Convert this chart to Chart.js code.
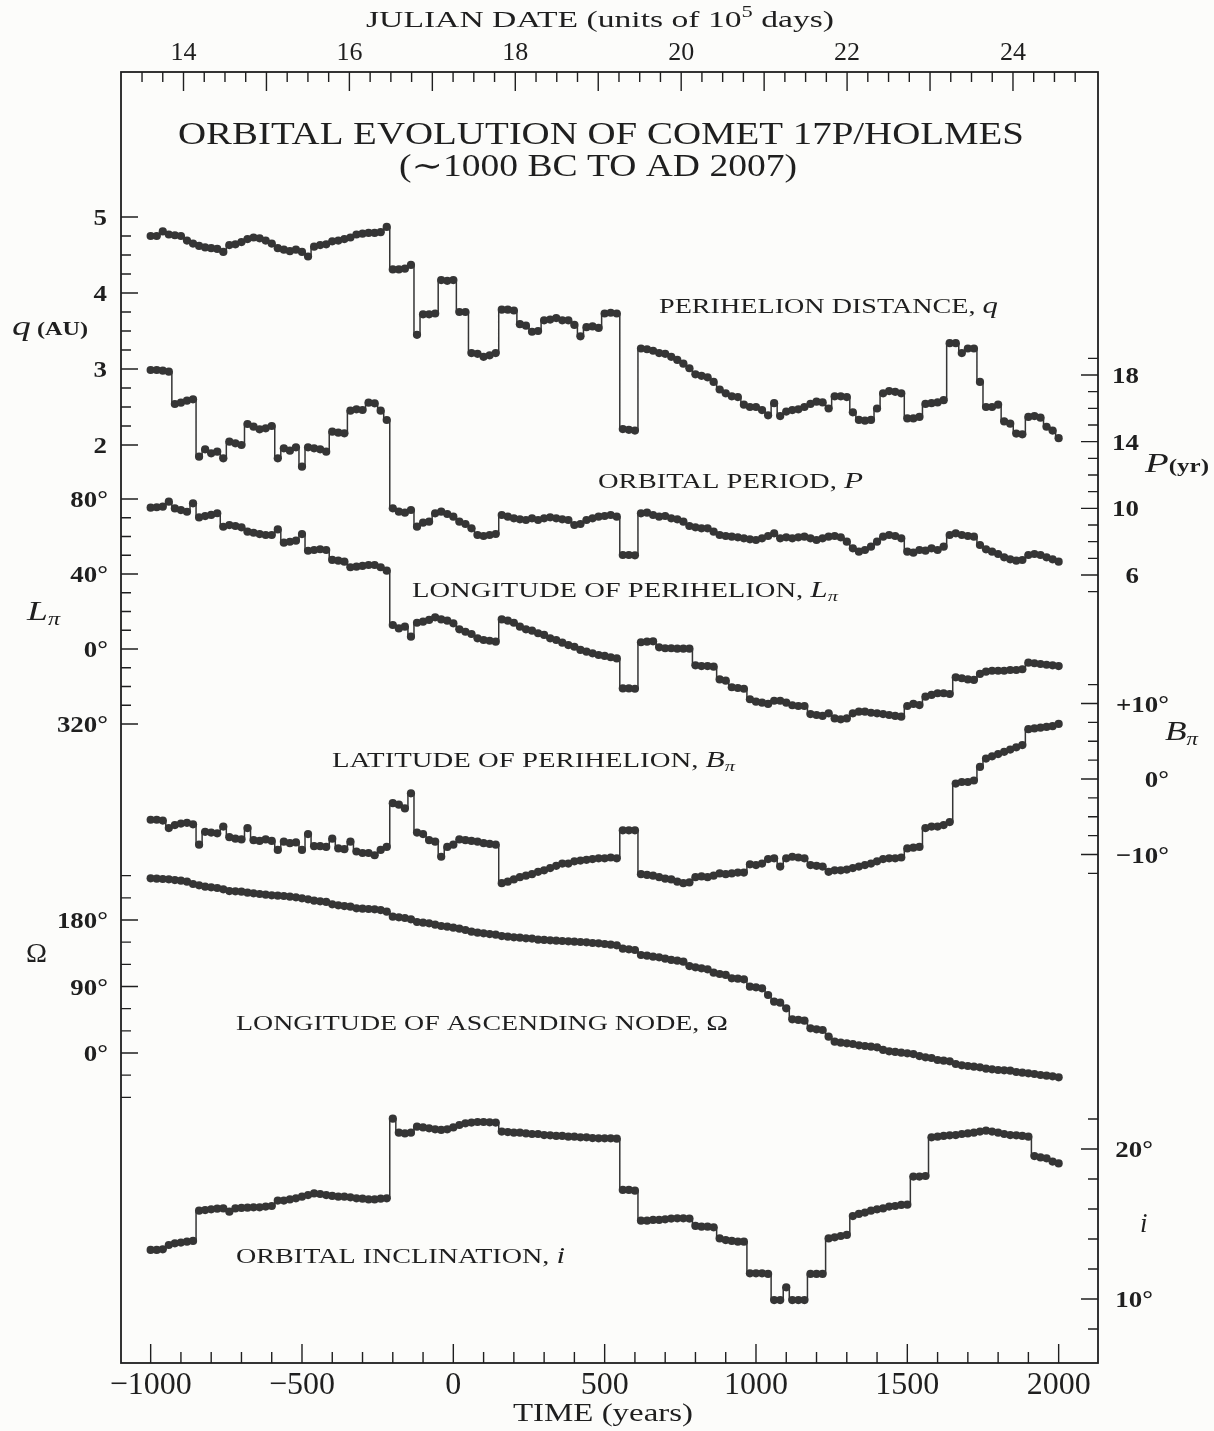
<!DOCTYPE html>
<html>
<head>
<meta charset="utf-8">
<script src="https://cdn.jsdelivr.net/npm/chart.js@4.4.1/dist/chart.umd.min.js"></script>
<style>
  html, body { margin: 0; padding: 0; background: #fcfcfa; }
  #chart { display: block; }
</style>
</head>
<body>
<canvas id="chart" width="1214" height="1431"></canvas>
<script>
// --- data (one value per 20 years) ---
const years = [
  -1000, -980, -960, -940, -920, -900, -880, -860, -840, -820,
  -800, -780, -760, -740, -720, -700, -680, -660, -640, -620,
  -600, -580, -560, -540, -520, -500, -480, -460, -440, -420,
  -400, -380, -360, -340, -320, -300, -280, -260, -240, -220,
  -200, -180, -160, -140, -120, -100, -80, -60, -40, -20,
  0, 20, 40, 60, 80, 100, 120, 140, 160, 180,
  200, 220, 240, 260, 280, 300, 320, 340, 360, 380,
  400, 420, 440, 460, 480, 500, 520, 540, 560, 580,
  600, 620, 640, 660, 680, 700, 720, 740, 760, 780,
  800, 820, 840, 860, 880, 900, 920, 940, 960, 980,
  1000, 1020, 1040, 1060, 1080, 1100, 1120, 1140, 1160, 1180,
  1200, 1220, 1240, 1260, 1280, 1300, 1320, 1340, 1360, 1380,
  1400, 1420, 1440, 1460, 1480, 1500, 1520, 1540, 1560, 1580,
  1600, 1620, 1640, 1660, 1680, 1700, 1720, 1740, 1760, 1780,
  1800, 1820, 1840, 1860, 1880, 1900, 1920, 1940, 1960, 1980,
  2000
];

// perihelion distance q (AU)
const perihelionQ = [
  4.75, 4.75, 4.81, 4.77, 4.76, 4.75, 4.69, 4.65, 4.62, 4.60,
  4.59, 4.58, 4.54, 4.63, 4.64, 4.67, 4.71, 4.73, 4.72, 4.69,
  4.65, 4.59, 4.57, 4.55, 4.57, 4.54, 4.48, 4.61, 4.63, 4.64,
  4.68, 4.69, 4.71, 4.73, 4.77, 4.78, 4.79, 4.79, 4.80, 4.87,
  4.31, 4.31, 4.32, 4.37, 3.45, 3.72, 3.72, 3.73, 4.17, 4.16,
  4.17, 3.75, 3.75, 3.21, 3.20, 3.16, 3.18, 3.21, 3.78, 3.78,
  3.77, 3.59, 3.57, 3.49, 3.50, 3.64, 3.65, 3.67, 3.64, 3.64,
  3.58, 3.43, 3.55, 3.56, 3.54, 3.73, 3.74, 3.73, 2.21, 2.20,
  2.19, 3.27, 3.26, 3.24, 3.21, 3.20, 3.16, 3.12, 3.07, 3.01,
  2.93, 2.91, 2.89, 2.83, 2.73, 2.68, 2.64, 2.63, 2.53, 2.50,
  2.50, 2.46, 2.39, 2.55, 2.38, 2.44, 2.46, 2.47, 2.50, 2.54,
  2.57, 2.56, 2.48, 2.64, 2.64, 2.63, 2.43, 2.33, 2.32, 2.33,
  2.48, 2.68, 2.71, 2.70, 2.68, 2.35, 2.35, 2.37, 2.54, 2.55,
  2.56, 2.59, 3.34, 3.34, 3.21, 3.27, 3.27, 2.83, 2.50, 2.50,
  2.53, 2.31, 2.28, 2.15, 2.14, 2.37, 2.38, 2.36, 2.24, 2.19,
  2.09
];

// orbital period P (yr)
const periodP = [
  18.30, 18.30, 18.26, 18.20, 16.26, 16.34, 16.46, 16.54, 13.10, 13.54,
  13.30, 13.40, 13.00, 14.00, 13.90, 13.80, 15.06, 14.90, 14.74, 14.80,
  14.94, 13.00, 13.60, 13.46, 13.66, 12.50, 13.66, 13.60, 13.54, 13.40,
  14.60, 14.54, 14.50, 15.86, 15.94, 15.90, 16.34, 16.30, 15.86, 15.30,
  10.00, 9.80, 9.74, 9.90, 8.90, 9.14, 9.20, 9.70, 9.80, 9.66,
  9.50, 9.20, 9.06, 8.80, 8.40, 8.34, 8.40, 8.46, 9.60, 9.50,
  9.40, 9.34, 9.30, 9.40, 9.30, 9.40, 9.46, 9.40, 9.34, 9.30,
  9.00, 9.06, 9.30, 9.40, 9.50, 9.54, 9.60, 9.50, 7.20, 7.20,
  7.18, 9.70, 9.74, 9.60, 9.50, 9.54, 9.40, 9.34, 9.20, 8.94,
  8.86, 8.80, 8.80, 8.60, 8.40, 8.34, 8.30, 8.26, 8.20, 8.14,
  8.10, 8.20, 8.34, 8.50, 8.20, 8.26, 8.20, 8.26, 8.30, 8.20,
  8.10, 8.20, 8.30, 8.34, 8.26, 8.00, 7.60, 7.40, 7.50, 7.70,
  8.00, 8.30, 8.40, 8.34, 8.20, 7.40, 7.34, 7.50, 7.46, 7.60,
  7.50, 7.70, 8.40, 8.50, 8.40, 8.34, 8.30, 7.80, 7.54, 7.40,
  7.26, 7.06, 6.94, 6.86, 6.90, 7.20, 7.26, 7.20, 7.06, 6.94,
  6.80
];

// longitude of perihelion (deg, negative = 360 - x)
const perihelionLon = [
  75.4, 75.6, 75.9, 78.6, 75.0, 74.1, 73.2, 77.7, 70.2, 70.9,
  71.5, 72.4, 65.2, 66.1, 65.6, 64.9, 62.6, 62.0, 61.3, 60.8,
  60.8, 63.8, 56.7, 57.2, 57.8, 61.3, 52.4, 52.8, 53.2, 52.8,
  47.5, 47.1, 46.6, 43.6, 43.9, 44.3, 44.8, 44.8, 43.6, 41.8,
  12.8, 11.0, 11.9, 6.6, 14.0, 14.6, 15.5, 16.9, 15.8, 15.1,
  13.7, 10.5, 9.2, 8.0, 5.7, 4.8, 4.4, 3.9, 15.8, 15.1,
  14.0, 11.9, 10.5, 9.8, 8.4, 7.5, 5.7, 4.8, 3.4, 2.1,
  1.2, -0.5, -1.4, -2.3, -3.2, -3.7, -4.4, -5.0, -21.0, -21.0,
  -21.2, 3.6, 3.9, 4.1, 0.9, 0.4, 0.4, 0.2, 0.2, 0.2,
  -8.7, -9.1, -9.1, -9.4, -16.2, -16.9, -20.4, -20.8, -21.2, -26.8,
  -28.1, -28.6, -29.3, -27.6, -27.6, -28.6, -30.0, -30.4, -30.4, -34.7,
  -35.2, -35.7, -34.3, -37.0, -37.5, -37.0, -34.3, -33.4, -33.4, -34.0,
  -34.3, -34.7, -35.2, -35.7, -36.1, -30.4, -29.3, -29.9, -25.4, -24.5,
  -23.6, -23.6, -24.0, -15.1, -15.6, -16.2, -16.5, -13.3, -12.1, -11.6,
  -11.6, -11.6, -11.2, -11.2, -10.8, -7.3, -7.6, -8.0, -8.4, -8.7,
  -9.1
];

// latitude of perihelion (deg)
const perihelionLat = [
  -5.4, -5.4, -5.5, -6.5, -6.1, -5.9, -5.8, -6.0, -8.7, -7.0,
  -7.1, -7.2, -6.3, -7.7, -7.9, -8.0, -6.5, -8.1, -8.2, -8.0,
  -8.2, -9.4, -8.3, -8.5, -8.4, -9.4, -7.3, -8.9, -8.9, -9.0,
  -7.9, -9.2, -9.3, -8.3, -9.6, -9.8, -9.8, -10.1, -9.4, -9.0,
  -3.2, -3.4, -3.9, -1.9, -7.1, -7.3, -8.1, -8.3, -10.3, -9.0,
  -8.7, -8.0, -8.1, -8.2, -8.3, -8.5, -8.6, -8.7, -13.8, -13.6,
  -13.3, -13.0, -12.8, -12.6, -12.3, -12.1, -11.8, -11.5, -11.2, -11.2,
  -10.9, -10.8, -10.7, -10.6, -10.5, -10.5, -10.4, -10.5, -6.8, -6.8,
  -6.8, -12.6, -12.7, -12.8, -13.0, -13.2, -13.3, -13.6, -13.8, -13.7,
  -13.0, -12.9, -13.0, -12.8, -12.5, -12.6, -12.5, -12.4, -12.4, -11.3,
  -11.4, -11.2, -10.6, -10.5, -11.6, -10.5, -10.3, -10.4, -10.5, -11.4,
  -11.5, -11.6, -12.3, -12.1, -12.1, -12.0, -11.8, -11.6, -11.4, -11.2,
  -10.9, -10.6, -10.5, -10.5, -10.4, -9.2, -9.1, -9.0, -6.5, -6.3,
  -6.3, -6.1, -5.7, -0.6, -0.4, -0.4, -0.2, 1.6, 2.7, 3.0,
  3.3, 3.6, 3.9, 4.2, 4.5, 6.6, 6.7, 6.8, 6.9, 7.0,
  7.3
];

// longitude of ascending node (deg)
const ascNode = [
  236.4, 235.9, 235.5, 235.0, 234.1, 233.2, 231.9, 228.7, 226.9, 225.1,
  224.2, 223.3, 221.5, 219.2, 218.8, 218.3, 217.0, 216.1, 215.2, 214.3,
  213.4, 212.9, 212.5, 211.6, 210.7, 209.3, 208.0, 206.2, 205.3, 204.4,
  201.2, 199.9, 198.9, 198.1, 195.8, 195.3, 194.9, 194.4, 193.5, 191.3,
  184.5, 183.6, 182.7, 180.9, 177.3, 176.4, 175.5, 173.7, 171.9, 171.0,
  169.6, 168.3, 166.5, 164.2, 162.9, 161.9, 161.0, 160.1, 158.3, 157.4,
  156.5, 156.1, 155.2, 154.8, 153.4, 153.0, 152.5, 152.0, 151.6, 151.1,
  150.7, 150.2, 149.8, 148.9, 148.4, 147.5, 146.6, 145.7, 141.2, 140.3,
  139.4, 132.6, 131.7, 130.4, 129.5, 127.7, 125.9, 125.0, 123.6, 117.7,
  115.9, 114.6, 113.2, 108.7, 106.9, 105.6, 101.1, 100.6, 99.7, 89.8,
  88.9, 87.5, 78.5, 69.5, 68.1, 60.5, 45.6, 44.7, 43.8, 33.4,
  32.0, 31.1, 22.1, 15.3, 14.0, 13.1, 12.2, 10.4, 9.5, 8.6,
  7.7, 4.1, 2.3, 1.4, 0.5, -0.5, -1.4, -4.1, -5.9, -6.8,
  -9.5, -10.4, -11.3, -14.9, -16.7, -17.6, -18.5, -19.4, -21.2, -22.1,
  -23.0, -23.5, -23.9, -25.7, -26.6, -27.5, -28.4, -29.8, -30.7, -31.6,
  -32.9
];

// orbital inclination (deg)
const inclination = [
  13.27, 13.27, 13.31, 13.60, 13.71, 13.76, 13.82, 13.87, 15.89, 15.93,
  15.98, 16.02, 16.04, 15.82, 16.04, 16.07, 16.09, 16.11, 16.11, 16.16,
  16.20, 16.56, 16.56, 16.64, 16.71, 16.82, 16.93, 17.04, 17.00, 16.93,
  16.87, 16.82, 16.82, 16.78, 16.71, 16.69, 16.64, 16.64, 16.69, 16.71,
  22.02, 21.09, 21.04, 21.09, 21.49, 21.44, 21.38, 21.31, 21.27, 21.31,
  21.44, 21.60, 21.71, 21.76, 21.80, 21.80, 21.78, 21.76, 21.16, 21.13,
  21.09, 21.09, 21.04, 21.00, 21.00, 20.93, 20.91, 20.87, 20.87, 20.82,
  20.82, 20.78, 20.78, 20.73, 20.71, 20.71, 20.71, 20.69, 17.27, 17.27,
  17.22, 15.22, 15.22, 15.27, 15.27, 15.31, 15.36, 15.38, 15.38, 15.36,
  14.87, 14.82, 14.82, 14.78, 14.04, 13.93, 13.87, 13.82, 13.82, 11.71,
  11.71, 11.71, 11.67, 9.93, 9.93, 10.78, 9.93, 9.93, 9.93, 11.67,
  11.67, 11.67, 14.04, 14.11, 14.20, 14.27, 15.53, 15.67, 15.76, 15.89,
  15.98, 16.04, 16.16, 16.20, 16.27, 16.29, 18.16, 18.16, 18.20, 20.78,
  20.82, 20.87, 20.91, 20.93, 21.00, 21.04, 21.09, 21.16, 21.22, 21.16,
  21.09, 21.00, 20.93, 20.91, 20.87, 20.82, 19.53, 19.44, 19.38, 19.16,
  19.04
];

// --- tick labels ---
const timeTicks = [-1000, -500, 0, 500, 1000, 1500, 2000];
const jdTicks = [14, 16, 18, 20, 22, 24];
const qTicks = [5, 4, 3, 2];
const lonTicks = [80, 40, 0, -40];      // -40 is printed as 320°
const nodeTicks = [180, 90, 0];
const periodTicks = [18, 14, 10, 6];
const latTicks = [10, 0, -10];
const inclTicks = [20, 10];

const SERIF = '"Liberation Serif", "DejaVu Serif", serif';
const INK = '#1f1f1f';
const DOT = '#353535';
const TOP = 72, BOTTOM = 1363;

// min/max of a hidden axis from two (value, pixel) anchors
function span(v1, p1, v2, p2) {
    const k = (v2 - v1) / (p2 - p1);
    return { min: v1 + (BOTTOM - p1) * k, max: v1 + (TOP - p1) * k };
}

const fmtYear = v => v < 0 ? '\u2212' + (-v) : String(v);
const deg = v => (v < 0 ? v + 360 : v) + '\u00b0';
const signedDeg = v => (v > 0 ? '+' : v < 0 ? '\u2212' : '') + Math.abs(v) + '\u00b0';

function drawRuns(ctx, parts, x, y, align, opts) {
    opts = opts || {};
    const font = p => `${p.style || 'normal'} ${p.weight || 'normal'} ${p.size}px ${SERIF}`;
    let total = 0;
    parts.forEach(p => { ctx.font = font(p); p.w = ctx.measureText(p.t).width; total += p.w; });
    const sx = opts.width ? opts.width / total : (opts.sx || 1);
    const start = align === 'center' ? x - total * sx / 2 : align === 'right' ? x - total * sx : x;
    ctx.save();
    ctx.translate(start, y);
    ctx.scale(sx, 1);
    ctx.fillStyle = INK;
    ctx.textAlign = 'left';
    ctx.textBaseline = 'alphabetic';
    let cx = 0;
    parts.forEach(p => { ctx.font = font(p); ctx.fillText(p.t, cx, p.dy || 0); cx += p.w; });
    ctx.restore();
}

const paper = {
    id: 'paper',
    beforeDraw(chart) {
        const ctx = chart.ctx;
        ctx.save();
        ctx.fillStyle = '#fcfcfa';
        ctx.fillRect(0, 0, chart.width, chart.height);
        ctx.restore();
    },
    afterDraw(chart) {
        const ctx = chart.ctx;
        const ca = chart.chartArea;
        const s = chart.scales;
        ctx.save();
        ctx.strokeStyle = INK;
        ctx.lineWidth = 1.8;
        ctx.strokeRect(ca.left, ca.top, ca.right - ca.left, ca.bottom - ca.top);

        ctx.lineWidth = 1.4;
        ctx.beginPath();
        // bottom: every 100 yr, long every 500
        for (let v = -1000; v <= 2000; v += 100) {
            const px = s.x.getPixelForValue(v);
            const len = v % 500 === 0 ? 19 : 11;
            ctx.moveTo(px, ca.bottom); ctx.lineTo(px, ca.bottom - len);
        }
        // top: every 0.25 x 10^5 days, long at whole units
        for (let k = 54; k <= 99; k++) {
            const px = s.x2.getPixelForValue(k / 4);
            const len = k % 4 === 0 ? 19 : 10;
            ctx.moveTo(px, ca.top); ctx.lineTo(px, ca.top + len);
        }
        const sideTicks = [
            ['yq', 2, 5, 0.25, qTicks, 'left'],
            ['yL', -40, 80, 10, lonTicks, 'left'],
            ['yO', -60, 240, 30, nodeTicks, 'left'],
            ['yP', 5, 19, 1, periodTicks, 'right'],
            ['yB', -12.5, 12.5, 2.5, latTicks, 'right'],
            ['yi', 8, 22, 2, inclTicks, 'right']
        ];
        sideTicks.forEach(([id, from, to, step, majors, side]) => {
            const n = Math.round((to - from) / step);
            for (let k = 0; k <= n; k++) {
                const v = from + k * step;
                const py = s[id].getPixelForValue(v);
                const len = majors.includes(v) ? 17 : 10;
                const x0 = side === 'left' ? ca.left : ca.right;
                const dir = side === 'left' ? 1 : -1;
                ctx.moveTo(x0, py); ctx.lineTo(x0 + dir * len, py);
            }
        });
        ctx.stroke();
        ctx.restore();

        // tick labels of the stacked y scales
        const tl = (id, vals, fmt, xr) => vals.forEach(v => {
            drawRuns(ctx, [{ t: fmt(v), size: 24, weight: 'bold' }], xr, s[id].getPixelForValue(v) + 8, 'right', { sx: 1.12 });
        });
        tl('yq', qTicks, String, 107);
        tl('yL', lonTicks, deg, 108);
        tl('yO', nodeTicks, deg, 108);
        tl('yP', periodTicks, String, 1139);
        tl('yB', latTicks, signedDeg, 1169);
        tl('yi', inclTicks, deg, 1153);

        // axis names
        drawRuns(ctx, [{ t: 'q', size: 28, style: 'italic' }, { t: ' (AU)', size: 18, weight: 'bold' }], 12, 335, 'left', { width: 76 });
        drawRuns(ctx, [{ t: 'L', size: 28, style: 'italic' }, { t: '\u03c0', size: 18, style: 'italic', dy: 5 }], 27, 620, 'left', { width: 33 });
        drawRuns(ctx, [{ t: '\u03a9', size: 27 }], 26, 962, 'left', { width: 21 });
        drawRuns(ctx, [{ t: 'P', size: 28, style: 'italic' }, { t: '(yr)', size: 18, weight: 'bold' }], 1145, 472, 'left', { width: 64 });
        drawRuns(ctx, [{ t: 'B', size: 28, style: 'italic' }, { t: '\u03c0', size: 18, style: 'italic', dy: 5 }], 1165, 740, 'left', { width: 33 });
        drawRuns(ctx, [{ t: 'i', size: 27, style: 'italic' }], 1140, 1232, 'left');

        // titles
        drawRuns(ctx, [{ t: 'JULIAN DATE (units of 10', size: 24 }, { t: '5', size: 16, dy: -10 }, { t: ' days)', size: 24 }], 600, 27, 'center', { width: 468 });
        drawRuns(ctx, [{ t: 'TIME (years)', size: 25 }], 603, 1421, 'center', { width: 180 });
        drawRuns(ctx, [{ t: 'ORBITAL EVOLUTION OF COMET 17P/HOLMES', size: 31 }], 601, 144, 'center', { width: 846 });
        drawRuns(ctx, [{ t: '(\u223c1000 BC TO AD 2007)', size: 31 }], 598, 176, 'center', { width: 398 });

        // curve labels
        const cap = 21;
        drawRuns(ctx, [{ t: 'PERIHELION DISTANCE, ', size: cap }, { t: 'q', size: 23, style: 'italic' }], 659, 313, 'left', { width: 339 });
        drawRuns(ctx, [{ t: 'ORBITAL PERIOD, ', size: cap }, { t: 'P', size: 23, style: 'italic' }], 598, 488, 'left', { width: 265 });
        drawRuns(ctx, [{ t: 'LONGITUDE OF PERIHELION, ', size: cap }, { t: 'L', size: 23, style: 'italic' }, { t: '\u03c0', size: 15, style: 'italic', dy: 4 }], 412, 597, 'left', { width: 426 });
        drawRuns(ctx, [{ t: 'LATITUDE OF PERIHELION, ', size: cap }, { t: 'B', size: 23, style: 'italic' }, { t: '\u03c0', size: 15, style: 'italic', dy: 4 }], 332, 767, 'left', { width: 403 });
        drawRuns(ctx, [{ t: 'LONGITUDE OF ASCENDING NODE, ', size: cap }, { t: '\u03a9', size: 22 }], 236, 1030, 'left', { width: 492 });
        drawRuns(ctx, [{ t: 'ORBITAL INCLINATION, ', size: cap }, { t: 'i', size: 23, style: 'italic' }], 236, 1263, 'left', { width: 329 });
    }
};

function series(values, axisId) {
    return {
        data: years.map((x, k) => ({ x, y: values[k] })),
        yAxisID: axisId,
        xAxisID: 'x',
        stepped: 'middle',
        borderColor: DOT,
        borderWidth: 1.5,
        pointRadius: 4.1,
        pointHoverRadius: 4.1,
        pointBorderWidth: 0,
        pointBackgroundColor: DOT,
        fill: false
    };
}

const hidden = r => Object.assign({ type: 'linear', display: false }, r);

new Chart(document.getElementById('chart'), {
    type: 'line',
    data: {
        datasets: [
            series(perihelionQ, 'yq'),
            series(periodP, 'yP'),
            series(perihelionLon, 'yL'),
            series(perihelionLat, 'yB'),
            series(ascNode, 'yO'),
            series(inclination, 'yi')
        ]
    },
    options: {
        responsive: false,
        animation: false,
        devicePixelRatio: 1,
        events: [],
        layout: { padding: { left: 121, right: 116, top: 0, bottom: 0 } },
        plugins: { legend: { display: false }, tooltip: { enabled: false } },
        scales: {
            x: {
                type: 'linear', position: 'bottom', min: -1098, max: 2130,
                grid: { display: false, drawTicks: false },
                border: { display: false },
                ticks: { padding: 3, color: INK, font: { family: SERIF, size: 32 }, maxRotation: 0, callback: v => fmtYear(v) },
                afterBuildTicks: sc => { sc.ticks = timeTicks.map(v => ({ value: v })); },
                afterFit: sc => { sc.height = 68; }
            },
            x2: {
                type: 'linear', position: 'top', min: 13.2465, max: 25.025,
                grid: { display: false, drawTicks: false },
                border: { display: false },
                ticks: { padding: 3, color: INK, font: { family: SERIF, size: 26 }, maxRotation: 0 },
                afterBuildTicks: sc => { sc.ticks = jdTicks.map(v => ({ value: v })); },
                afterFit: sc => { sc.height = 72; }
            },
            yq: hidden(span(5, 217, 2, 445)),
            yP: hidden(span(18, 375, 6, 575)),
            yL: hidden(span(80, 499, -40, 724)),
            yB: hidden(span(10, 703.5, -10, 854.5)),
            yO: hidden(span(180, 920, 0, 1053)),
            yi: hidden(span(20, 1149, 10, 1299))
        }
    },
    plugins: [paper]
});
</script>
</body>
</html>
